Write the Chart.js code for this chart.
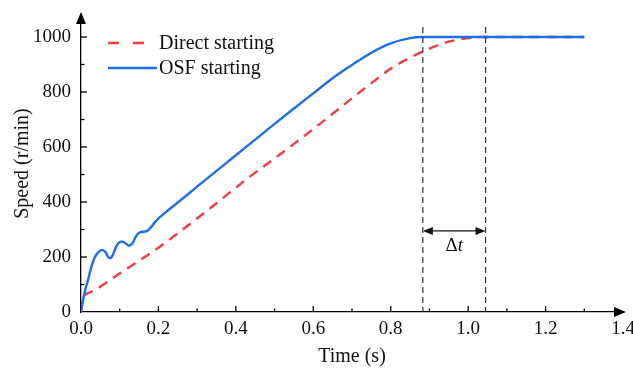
<!DOCTYPE html>
<html>
<head>
<meta charset="utf-8">
<script src="https://cdn.jsdelivr.net/npm/chart.js@4.4.0/dist/chart.umd.min.js"></script>
<style>
  html, body { margin: 0; padding: 0; background: #fff; }
  #wrap { width: 633px; height: 377px; }
</style>
</head>
<body>
<div id="wrap"><canvas id="myChart" width="633" height="377"></canvas></div>
<script>
// time (s) and speed (r/min)
var directTime = [0, 0.004, 0.01, 0.036, 0.1, 0.2, 0.3, 0.4, 0.436, 0.5, 0.6, 0.7, 0.75, 0.8, 0.85, 0.9, 0.95, 1.0, 1.04, 1.1, 1.2, 1.3];
var directSpeed = [0, 50, 62, 80, 140, 234, 340, 452, 492, 558, 665, 777, 832, 885, 925, 958, 983, 996, 1000, 1000, 1000, 1000];

var osfTime = [0, 0.005, 0.01, 0.018, 0.027, 0.036, 0.045, 0.054, 0.063, 0.07, 0.076, 0.083, 0.09, 0.098, 0.106, 0.115, 0.124, 0.133, 0.142, 0.152, 0.162, 0.17, 0.18, 0.19, 0.2, 0.22, 0.25, 0.3, 0.35, 0.4, 0.45, 0.5, 0.55, 0.6, 0.65, 0.7, 0.75, 0.8, 0.85, 0.88, 0.9, 1.0, 1.1, 1.2, 1.3];
var osfSpeed = [0, 40, 75, 116, 165, 200, 218, 226, 218, 200, 196, 210, 235, 252, 256, 250, 241, 250, 275, 290, 292, 294, 307, 325, 340, 364, 398, 456, 513, 570, 627, 684, 740, 795, 850, 898, 943, 977, 996, 1000, 1000, 1000, 1000, 1000, 1000];

var xTicks = [0, 0.2, 0.4, 0.6, 0.8, 1.0, 1.2, 1.4];
var yTicks = [0, 200, 400, 600, 800, 1000];
var deltaLines = [0.883, 1.045]; // the two dashed markers
var deltaArrowSpeed = 295;
var deltaLineTop = 1036;

function toPoints(xs, ys) {
    var pts = [];
    for (var i = 0; i < xs.length; i++) {
        pts.push({ x: xs[i], y: ys[i] });
    }
    return pts;
}

var serif = "'Liberation Serif', 'Times New Roman', serif";

// inward ticks, arrow heads, legend and the delta t marker
var decorations = {
    id: 'decorations',
    afterDraw: function (chart) {
        var ctx = chart.ctx;
        var xs = chart.scales.x;
        var ys = chart.scales.y;
        var x0 = xs.getPixelForValue(0);
        var y0 = ys.getPixelForValue(0);
        ctx.save();
        ctx.strokeStyle = '#000';
        ctx.fillStyle = '#000';
        ctx.lineWidth = 1.3;

        // x ticks (up) every 0.1
        for (var t = 1; t < 14; t++) {
            var px = xs.getPixelForValue(t / 10);
            var len = (t % 2 === 0) ? 6 : 3.5;
            ctx.beginPath();
            ctx.moveTo(px, y0);
            ctx.lineTo(px, y0 - len);
            ctx.stroke();
        }
        // y ticks (right) every 100
        for (var v = 100; v <= 1000; v += 100) {
            var py = ys.getPixelForValue(v);
            var l = (v % 200 === 0) ? 6 : 3.5;
            ctx.beginPath();
            ctx.moveTo(x0, py);
            ctx.lineTo(x0 + l, py);
            ctx.stroke();
        }

        // arrows
        var top = chart.chartArea.top;
        ctx.beginPath();
        ctx.moveTo(x0, top - 3);
        ctx.lineTo(x0 - 5, top + 9);
        ctx.lineTo(x0 + 5, top + 9);
        ctx.closePath();
        ctx.fill();
        var right = chart.chartArea.right;
        ctx.beginPath();
        ctx.moveTo(right + 3, y0);
        ctx.lineTo(right - 9, y0 - 5);
        ctx.lineTo(right - 9, y0 + 5);
        ctx.closePath();
        ctx.fill();

        // delta t marker
        ctx.strokeStyle = '#333';
        ctx.lineWidth = 1.2;
        ctx.setLineDash([6, 4]);
        deltaLines.forEach(function (d) {
            var px = xs.getPixelForValue(d);
            ctx.beginPath();
            ctx.moveTo(px, ys.getPixelForValue(deltaLineTop));
            ctx.lineTo(px, y0);
            ctx.stroke();
        });
        ctx.setLineDash([]);
        var a1 = xs.getPixelForValue(deltaLines[0]);
        var a2 = xs.getPixelForValue(deltaLines[1]);
        var ay = ys.getPixelForValue(deltaArrowSpeed);
        ctx.strokeStyle = '#111';
        ctx.beginPath();
        ctx.moveTo(a1 + 2, ay);
        ctx.lineTo(a2 - 2, ay);
        ctx.stroke();
        ctx.fillStyle = '#111';
        ctx.beginPath();
        ctx.moveTo(a1, ay);
        ctx.lineTo(a1 + 10, ay - 4);
        ctx.lineTo(a1 + 10, ay + 4);
        ctx.closePath();
        ctx.fill();
        ctx.beginPath();
        ctx.moveTo(a2, ay);
        ctx.lineTo(a2 - 10, ay - 4);
        ctx.lineTo(a2 - 10, ay + 4);
        ctx.closePath();
        ctx.fill();
        ctx.textBaseline = 'middle';
        ctx.textAlign = 'left';
        var mid = (a1 + a2) / 2;
        ctx.font = '19px ' + serif;
        var wD = ctx.measureText('\u0394').width;
        ctx.font = 'italic 19px ' + serif;
        var wT = ctx.measureText('t').width;
        var sx = mid - (wD + wT) / 2;
        ctx.font = '19px ' + serif;
        ctx.fillText('\u0394', sx, ay + 15);
        ctx.font = 'italic 19px ' + serif;
        ctx.fillText('t', sx + wD, ay + 15);

        // legend
        var rows = [43, 68];
        var sampleStart = [108, 108];
        var sampleEnd = [146, 157];
        ctx.font = '20px ' + serif;
        ctx.fillStyle = '#111';
        chart.data.datasets.forEach(function (ds, i) {
            ctx.strokeStyle = ds.borderColor;
            ctx.lineWidth = ds.borderWidth;
            ctx.setLineDash(ds.borderDash ? [11, 14] : []);
            ctx.beginPath();
            ctx.moveTo(sampleStart[i], rows[i]);
            ctx.lineTo(sampleEnd[i], rows[i]);
            ctx.stroke();
            ctx.setLineDash([]);
            ctx.fillText(ds.label, 159, rows[i] + 1);
        });
        ctx.restore();
    }
};

function noPadding(s) {
    s.paddingLeft = 0;
    s.paddingRight = 0;
    s.paddingTop = 0;
    s.paddingBottom = 0;
}

const ctx = document.getElementById('myChart');
const myChart = new Chart(ctx, {
    type: 'line',
    data: {
        datasets: [{
            label: 'Direct starting',
            data: toPoints(directTime, directSpeed),
            borderColor: 'rgb(242,62,62)',
            borderWidth: 2.4,
            borderDash: [10, 7],
            pointRadius: 0,
            cubicInterpolationMode: 'monotone',
            order: 1
        }, {
            label: 'OSF starting',
            data: toPoints(osfTime, osfSpeed),
            borderColor: 'rgb(30,110,230)',
            borderWidth: 2.4,
            pointRadius: 0,
            cubicInterpolationMode: 'monotone',
            order: 0
        }]
    },
    options: {
        responsive: false,
        animation: false,
        layout: { padding: { top: 15, right: 10, left: 0, bottom: 0 } },
        plugins: {
            legend: { display: false },
            tooltip: { enabled: false }
        },
        scales: {
            x: {
                type: 'linear',
                min: 0,
                max: 1.4,
                afterBuildTicks: function (s) {
                    s.ticks = xTicks.map(function (v) { return { value: v }; });
                },
                afterFit: function (s) { s.height = 65; noPadding(s); },
                grid: { display: false, drawTicks: false },
                border: { display: true, color: '#000', width: 1.3 },
                ticks: {
                    color: '#111',
                    padding: 6,
                    maxRotation: 0,
                    font: { family: serif, size: 19 },
                    callback: function (v) { return Number(v).toFixed(1); }
                },
                title: {
                    display: true,
                    text: 'Time (s)',
                    color: '#111',
                    font: { family: serif, size: 20 },
                    padding: { top: 0, bottom: 8 }
                }
            },
            y: {
                min: 0,
                max: 1080,
                afterBuildTicks: function (s) {
                    s.ticks = yTicks.map(function (v) { return { value: v }; });
                },
                afterFit: function (s) { s.width = 81; noPadding(s); },
                grid: { display: false, drawTicks: false },
                border: { display: true, color: '#000', width: 1.3 },
                ticks: {
                    color: '#111',
                    padding: 10,
                    font: { family: serif, size: 19 },
                    callback: function (v) { return String(v); }
                },
                title: {
                    display: true,
                    text: 'Speed (r/min)',
                    color: '#111',
                    font: { family: serif, size: 20 },
                    padding: { top: 11, bottom: 0 }
                }
            }
        }
    },
    plugins: [decorations]
});
</script>
</body>
</html>
